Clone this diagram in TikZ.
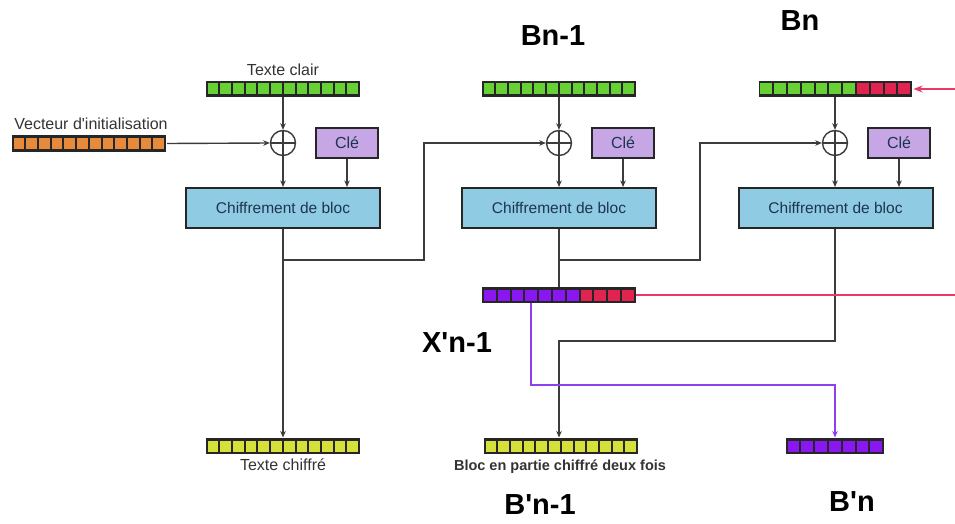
\documentclass[tikz,border=0pt]{standalone}
\usepackage{fontspec}
\setmainfont{Liberation Sans}[Ligatures=TeXOff]
\usetikzlibrary{arrows.meta,positioning,calc}
\usepackage{xcolor}

\definecolor{wire}{HTML}{3C3C3C}
\definecolor{cellgreen}{HTML}{66D035}
\definecolor{cellorange}{HTML}{E88A3C}
\definecolor{cellyellow}{HTML}{D6E03A}
\definecolor{cellpurple}{HTML}{8A17F2}
\definecolor{cellred}{HTML}{E1234F}
\definecolor{clefill}{HTML}{C7A6E6}
\definecolor{chifill}{HTML}{8FCBE2}
\definecolor{chitext}{HTML}{1C3550}
\definecolor{redwire}{HTML}{E83A64}
\definecolor{purplewire}{HTML}{8E3FF0}

% #1 name, #2 centre, #3 pitch, #4 n1, #5 colour1, #6 n2, #7 colour2
\newcommand{\bloc}[7]{%
  \node[bar, minimum width={(#4+#6)*#3*1pt+2pt}] (#1) at #2 {};
  \pgfmathtruncatemacro\ntot{#4+#6}
  \foreach \i in {1,...,\ntot}{
    \ifnum\i>#4 \def\cc{#7}\else\def\cc{#5}\fi
    \fill[fill=\cc] ([xshift={(\i-1)*#3*1pt+2pt}, yshift=-5.5pt]#1.west) rectangle ++({#3*1pt-2pt},11pt);
  }
}

\begin{document}
\begin{tikzpicture}[x=1pt,y=-1pt,
  bar/.style={rectangle, fill=black!85, minimum height=16.5pt, inner sep=0pt},
  wireline/.style={draw=wire, line width=1.4pt},
  arr/.style={wireline, -{Stealth[length=6.5pt,width=5.5pt]}},
  xor/.style={circle, draw=wire, line width=1.4pt, fill=white, minimum size=25pt, inner sep=0pt,
    path picture={\draw[wire, line width=1.4pt] (path picture bounding box.north) -- (path picture bounding box.south)
      (path picture bounding box.west) -- (path picture bounding box.east);}},
  clebox/.style={rectangle, draw=black!85, line width=2pt, fill=clefill, minimum width=62pt, minimum height=30pt,
    font=\fontsize{16}{18}\selectfont, text=chitext},
  chibox/.style={rectangle, draw=black!85, line width=2pt, fill=chifill, minimum width=194pt, minimum height=40pt,
    font=\fontsize{15.5}{18}\selectfont, text=chitext},
  lbl/.style={font=\fontsize{16}{18}\selectfont, text=black!80, inner sep=0pt},
  big/.style={font=\fontsize{29}{32}\selectfont\bfseries, inner sep=0pt},
  redline/.style={draw=redwire, line width=2pt},
  purpleline/.style={draw=purplewire, line width=2pt}]

  \useasboundingbox (0,0) rectangle (955,524);

  % first block
  \node[lbl] (tcLabel) at (283,70) {Texte clair};
  \node[lbl] (ivLabel) at (91,124) {Vecteur d'initialisation};
  \node[xor] (xorA) at (283,143) {};
  \node[clebox] (cleA) at (347,143) {Clé};
  \node[chibox] (chiA) at (283,208) {Chiffrement de bloc};
  \node[lbl] (tchifLabel) at (283,465) {Texte chiffré};

  % second block
  \node[big] (bnmLabel) at (553,36) {Bn-1};
  \node[xor] (xorB) at (559,143) {};
  \node[clebox] (cleB) at (623,143) {Clé};
  \node[chibox] (chiB) at (559,208) {Chiffrement de bloc};
  \node[big] (xnLabel) at (457,343) {X'n-1};
  \node[lbl, font=\fontsize{14.5}{17}\selectfont\bfseries] (bpartLabel) at (560,467) {Bloc en partie chiffré deux fois};
  \node[big] (bpnmLabel) at (540,505) {B'n-1};

  % third block
  \node[big] (bnLabel) at (800,21) {Bn};
  \node[xor] (xorC) at (835,143) {};
  \node[clebox] (cleC) at (899,143) {Clé};
  \node[chibox] (chiC) at (835.5,208) {Chiffrement de bloc};
  \node[big] (bpnLabel) at (852,502) {B'n};

  \coordinate (jA) at (283,260);
  \coordinate (kA) at (424,260);
  \coordinate (jB) at (559,260);
  \coordinate (kB) at (700,260);
  \coordinate (jC) at (559,341);
  \coordinate (pA) at (531,385);
  \coordinate (rOut) at (955,295);
  \coordinate (rIn) at (955,89);

  \draw[arr] (283,97) -- (xorA);
  \draw[arr] (167,143.5) -- (xorA.west);
  \draw[arr] (xorA) -- (xorA |- chiA.north);
  \draw[arr] (cleA) -- (cleA |- chiA.north);
  \draw[arr] (chiA) -- (283,437.5);
  \draw[arr] (jA) -- (kA) |- (xorB);

  \draw[arr] (559,97) -- (xorB);
  \draw[arr] (xorB) -- (xorB |- chiB.north);
  \draw[arr] (cleB) -- (cleB |- chiB.north);
  \draw[wireline] (chiB) -- (559,286.5);
  \draw[arr] (jB) -- (kB) |- (xorC);

  \draw[arr] (835,97) -- (xorC);
  \draw[arr] (xorC) -- (xorC |- chiC.north);
  \draw[arr] (cleC) -- (cleC |- chiC.north);
  \draw[arr] (chiC.south -| xorC) |- (jC) -- (559,437.5);

  \draw[purpleline, -{Stealth[length=6.5pt,width=5.5pt]}] (531,303) -- (pA) -| (835,437.5);
  \draw[redline] (636,295) -- (rOut);
  \draw[redline, -{Stealth[length=9pt,width=7pt]}] (rIn) -- (913.5,89);

  % bars
  \bloc{tc}{(283,89)}{12.7}{12}{cellgreen}{0}{cellgreen}
  \bloc{iv}{(89,143.5)}{12.7}{12}{cellorange}{0}{cellorange}
  \bloc{bnm}{(559,89)}{12.7}{12}{cellgreen}{0}{cellgreen}
  \bloc{bn}{(835.5,89)}{13.8}{7}{cellgreen}{4}{cellred}
  \bloc{xn}{(559,295)}{13.8}{7}{cellpurple}{4}{cellred}
  \bloc{tchif}{(283,446)}{12.7}{12}{cellyellow}{0}{cellyellow}
  \bloc{bpart}{(561,446)}{12.7}{12}{cellyellow}{0}{cellyellow}
  \bloc{bpn}{(835,446)}{13.8}{7}{cellpurple}{0}{cellpurple}
\end{tikzpicture}
\end{document}
